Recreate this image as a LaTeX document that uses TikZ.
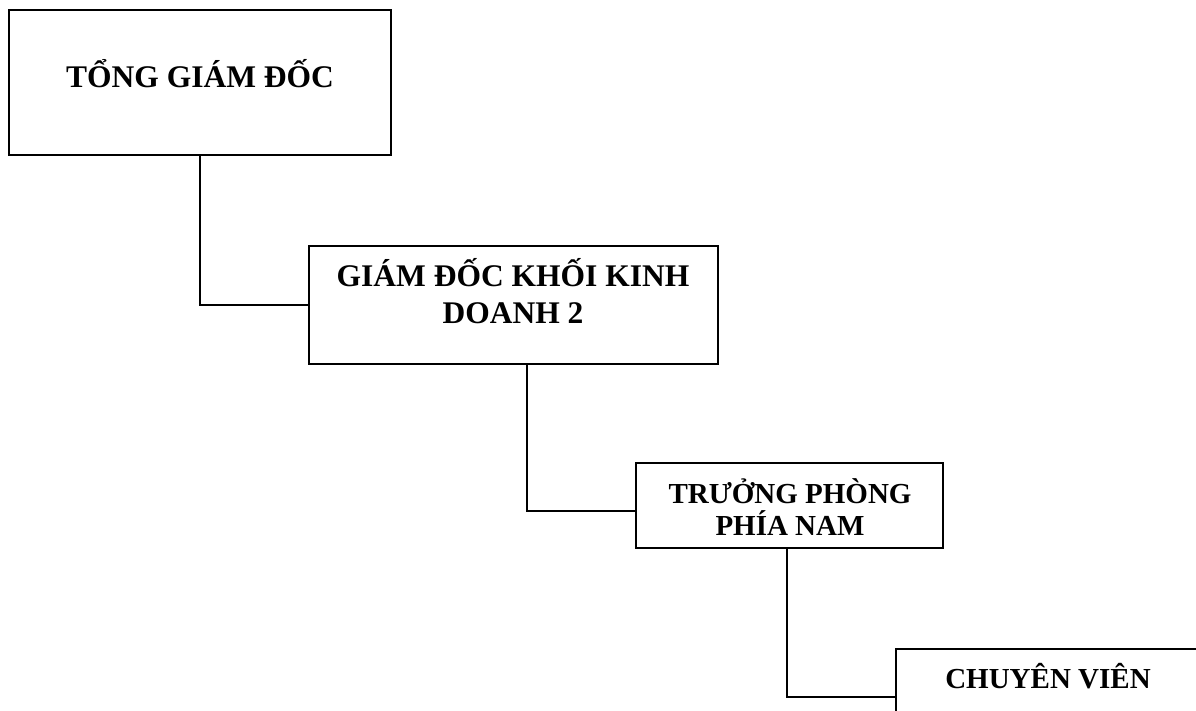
\documentclass[tikz,border=0pt]{standalone}
\usepackage{fontspec}
\setmainfont{Liberation Serif}
\usetikzlibrary{
  positioning % for relative placement
}
\tikzset{
  post/.style={ % style for each position box
    rectangle,draw,line width=2pt, % drawn as a thick black frame
    inner sep=0pt, % no padding, the size is given per box
  },
  bigtitle/.style={ % style for the titles of the upper boxes
    font=\bfseries\fontsize{31.5}{36}\selectfont,
    align=center,anchor=base,inner sep=0pt, % base = last line
  },
  smalltitle/.style={ % style for the titles of the lower boxes
    bigtitle,
    font=\bfseries\fontsize{29}{32}\selectfont,
  },
  conn/.style={ % style for the connections
    line width=2pt, % same weight as the frames
  },
}
\begin{document}
\begin{tikzpicture}[x=1pt,y=-1pt]
  \clip (0,0) rectangle (1196,711);
  \node[post,minimum width=382pt,minimum height=145pt] (tgd) at (200,82.5) {};
  \node[post,minimum width=409pt,minimum height=118pt] (gdk) at (513.5,305) {};
  \node[post,minimum width=307pt,minimum height=85pt] (tpn) at (789.5,505.5) {};
  \node[post,minimum width=304pt,minimum height=96pt] (cv) at (1048,697) {};

  \node[bigtitle] (tgd-t) at (200,88) {TỔNG GIÁM ĐỐC};
  \node[bigtitle] (gdk-t) at (513,323) {GIÁM ĐỐC KHỐI KINH\\DOANH 2};
  \node[smalltitle] (tpn-t) at (790,535) {TRƯỞNG PHÒNG\\PHÍA NAM};
  \node[smalltitle] (cv-t) at (1048,688) {CHUYÊN VIÊN};

  \draw[conn] (tgd.south) |- (gdk.west);
  \draw[conn] ([xshift=13.5pt]gdk.south) |- ([yshift=-5.5pt]tpn.west);
  \draw[conn] ([xshift=-2.5pt]tpn.south) |- (cv.west);
\end{tikzpicture}
\end{document}
